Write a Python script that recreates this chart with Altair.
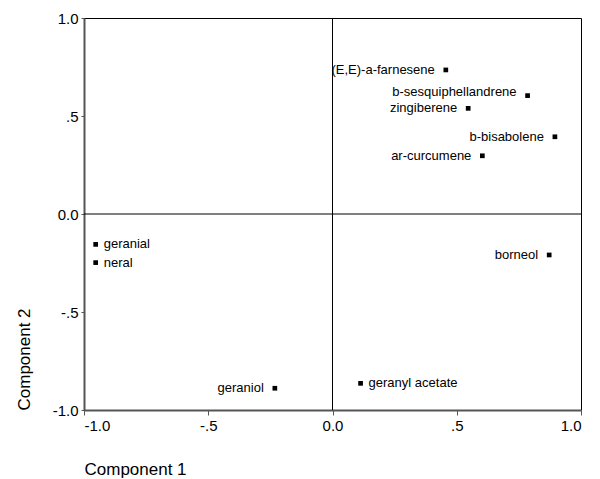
import altair as alt
import pandas as pd

names = ["(E,E)-a-farnesene", "b-sesquiphellandrene", "zingiberene", "b-bisabolene",
         "ar-curcumene", "borneol", "geranyl acetate", "geraniol", "geranial", "neral"]
comp1 = [0.456, 0.785, 0.546, 0.895, 0.603, 0.872, 0.113, -0.232, -0.953, -0.953]
comp2 = [0.735, 0.604, 0.539, 0.394, 0.297, -0.209, -0.864, -0.889, -0.155, -0.248]
label_side = ["left", "up", "left", "left", "left", "left", "right", "left", "right", "right"]

df = pd.DataFrame({"name": names, "c1": comp1, "c2": comp2, "side": label_side})

FONT = "Liberation Sans"

xs = alt.Scale(domain=[-1, 1], nice=False, zero=False)
ys = alt.Scale(domain=[-1, 1], nice=False, zero=False)
lbl = "datum.value == 0 ? '0.0' : (datum.value == 1 ? '1.0' : (datum.value == -1 ? '-1.0' : (datum.value > 0 ? '.5' : '-.5')))"

base = alt.Chart(df)

pts = base.mark_square(size=22, color="black", opacity=1).encode(
    x=alt.X("c1:Q", scale=xs, title="Component 1",
            axis=alt.Axis(values=[-1, -0.5, 0, 0.5, 1], labelExpr=lbl, grid=False,
                          titleAnchor="start", titleAlign="left", titlePadding=28)),
    y=alt.Y("c2:Q", scale=ys, title="Component 2",
            axis=alt.Axis(values=[-1, -0.5, 0, 0.5, 1], labelExpr=lbl, grid=False,
                          titleAnchor="start", titleAlign="left", titlePadding=19,
                          tickSize=3)),
)

enc = dict(x=alt.X("c1:Q", scale=xs), y=alt.Y("c2:Q", scale=ys), text="name:N")

left_txt = base.transform_filter("datum.side == 'left'").mark_text(
    align="right", baseline="middle", dx=-11, fontSize=13, font=FONT, color="black"
).encode(**enc)

up_txt = base.transform_filter("datum.side == 'up'").mark_text(
    align="right", baseline="middle", dx=-11, dy=-4, fontSize=13, font=FONT, color="black"
).encode(**enc)

right_txt = base.transform_filter("datum.side == 'right'").mark_text(
    align="left", baseline="middle", dx=8, fontSize=13, font=FONT, color="black"
).encode(**enc)

zero_df = pd.DataFrame({"z": [0]})
vline = alt.Chart(zero_df).mark_rule(color="black", strokeWidth=1).encode(
    x=alt.X("z:Q", scale=xs))
hline = alt.Chart(zero_df).mark_rule(color="black", strokeWidth=1).encode(
    y=alt.Y("z:Q", scale=ys))

chart = alt.layer(vline, hline, pts, left_txt, up_txt, right_txt).properties(
    width=497, height=392,
    autosize=alt.AutoSizeParams(type="none"),
    padding={"left": 84, "top": 18, "right": 19, "bottom": 69},
    background="white",
).configure_view(
    stroke="black", strokeWidth=1
).configure_axis(
    domainColor="#555555", domainWidth=2, tickColor="#555555", tickWidth=1,
    labelFont=FONT, labelFontSize=15, labelColor="black",
    titleFont=FONT, titleFontSize=17, titleFontWeight="normal", titleColor="black",
    labelPadding=3,
).configure_axisX(tickSize=5)

chart.save("out.html", embed_options={"renderer": "svg", "actions": False})
